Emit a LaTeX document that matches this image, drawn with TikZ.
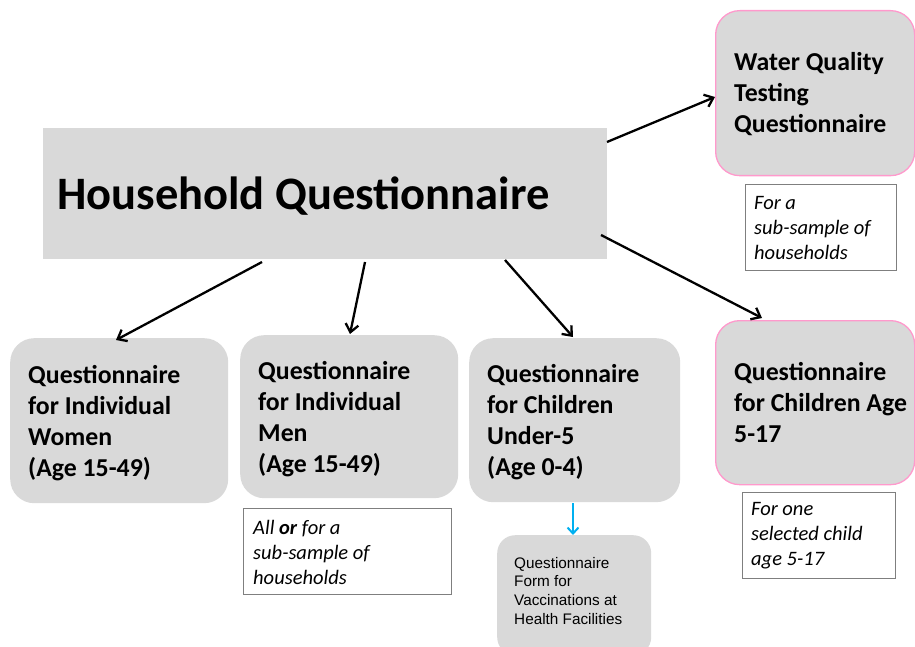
\documentclass[tikz,border=0pt]{standalone}
\usepackage{fontspec}
\setmainfont{Carlito}
\newfontfamily\arialfont{Liberation Sans}
\usetikzlibrary{arrows.meta,calc}
\definecolor{boxgray}{HTML}{D9D9D9}
\definecolor{pinkline}{HTML}{FF99CC}
\definecolor{notegray}{HTML}{7F7F7F}
\definecolor{bluearrow}{HTML}{00B0F0}
\tikzset{
  x=1pt, y=-1pt,
  graybox/.style={fill=boxgray, draw=none, rounded corners=24pt, anchor=north west, inner sep=0pt},
  pinkbox/.style={graybox, draw=pinkline, line width=1.3pt},
  boxtext/.style={align=flush left, inner sep=0pt, anchor=west,
    font=\fontsize{25.8}{31}\selectfont\bfseries},
  notebox/.style={draw=notegray, line width=0.9pt, fill=white, anchor=north west, inner sep=0pt},
  notetext/.style={align=flush left, inner sep=0pt, anchor=west,
    font=\fontsize{20.5}{25}\selectfont\itshape},
  conn/.style={draw=black, line width=2.3pt, -{Straight Barb[length=8pt,width=13pt,line width=2.3pt]}},
}
\begin{document}
\begin{tikzpicture}
\useasboundingbox (0,0) rectangle (915,647);
% main box
\node[fill=boxgray, anchor=north west, minimum width=564pt, minimum height=131pt, inner sep=0pt] (hh) at (43,128) {};
\node[align=flush left, inner sep=0pt, anchor=west, font=\fontsize{46.5}{52}\selectfont\bfseries]
  (hht) at ($(hh.west)+(14,2)$) {Household Questionnaire};
% top-right
\node[pinkbox, minimum width=199pt, minimum height=165pt] (wq) at (715,10) {};
\node[boxtext] (wqt) at ($(wq.west)+(19,1)$) {Water Quality\\Testing\\Questionnaire};
\node[notebox, minimum width=151pt, minimum height=86pt] (n1) at (745,184) {};
\node[notetext] (n1t) at ($(n1.west)+(9,1)$) {For a\\sub-sample of\\households};
% bottom row
\node[graybox, minimum width=218pt, minimum height=165pt] (wo) at (10,338) {};
\node[boxtext] (wot) at ($(wo.west)+(18,2)$) {Questionnaire\\for Individual\\Women\\(Age 15-49)};
\node[graybox, minimum width=218pt, minimum height=163pt] (me) at (240,335) {};
\node[boxtext] (met) at ($(me.west)+(18,2)$) {Questionnaire\\for Individual\\Men\\(Age 15-49)};
\node[graybox, minimum width=211pt, minimum height=164pt] (u5) at (469,338) {};
\node[boxtext] (u5t) at ($(u5.west)+(18,2)$) {Questionnaire\\for Children\\Under-5\\(Age 0-4)};
\node[pinkbox, minimum width=199pt, minimum height=164pt] (c5) at (715,320) {};
\node[boxtext] (c5t) at ($(c5.west)+(19,0)$) {Questionnaire\\for Children Age\\5-17};
\node[notebox, minimum width=208pt, minimum height=86pt] (n2) at (243,508) {};
\node[notetext] (n2t) at ($(n2.west)+(10,1)$) {All \textbf{or} for a\\sub-sample of\\households};
\node[notebox, minimum width=153pt, minimum height=86pt] (n3) at (742,492) {};
\node[notetext] (n3t) at ($(n3.west)+(9,0)$) {For one\\selected child\\age 5-17};
\node[fill=boxgray, rounded corners=18pt, anchor=north west, minimum width=154pt,
  minimum height=120pt, inner sep=0pt] (vf) at (497,535) {};
\node[align=flush left, inner sep=0pt, anchor=north west,
  font=\arialfont\fontsize{15.3}{18.6}\selectfont] (vft) at ($(vf.north west)+(17,22)$)
  {Questionnaire\\Form for\\Vaccinations at\\Health Facilities};
% connectors
\coordinate (hw) at (607,142);
\coordinate (hc) at (601,235);
\coordinate (h1) at (262,262);
\coordinate (h2) at (365,262);
\coordinate (h3) at (505,260);
\coordinate (tw) at (715,97);
\coordinate (tc) at (762,318);
\coordinate (t1) at (116,340);
\coordinate (t2) at (350,334);
\coordinate (t3) at (573,337);
\draw[conn] (hw) -- (tw);
\draw[conn] (hc) -- (tc);
\draw[conn] (h1) -- (t1);
\draw[conn] (h2) -- (t2);
\draw[conn] (h3) -- (t3);
\coordinate (bs) at (573,503);
\draw[draw=bluearrow, line width=2pt, -{Straight Barb[length=6pt,width=11pt,line width=2pt]}]
  (bs) -- (bs |- vf.north);
\end{tikzpicture}
\end{document}
